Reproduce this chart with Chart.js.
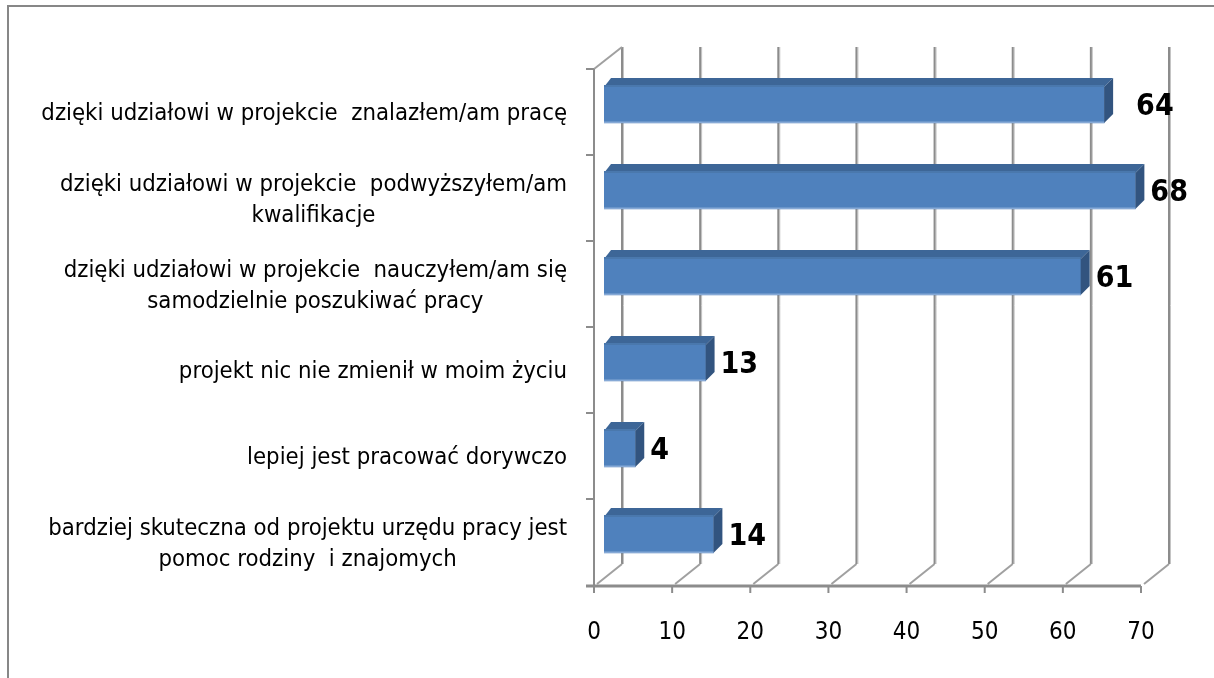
<!DOCTYPE html>
<html><head><meta charset="utf-8">
<script src="https://cdn.jsdelivr.net/npm/chart.js@4"></script>
<style>html,body{margin:0;padding:0;background:#fff;overflow:hidden}#wrap{width:1214px;height:678px;position:relative}</style>
</head><body><div id="wrap"><canvas id="c" width="1214" height="678"></canvas></div>
<script>
const categories = [
  ['dzięki udziałowi w projekcie  znalazłem/am pracę'],
  ['dzięki udziałowi w projekcie  podwyższyłem/am', 'kwalifikacje'],
  ['dzięki udziałowi w projekcie  nauczyłem/am się', 'samodzielnie poszukiwać pracy'],
  ['projekt nic nie zmienił w moim życiu'],
  ['lepiej jest pracować dorywczo'],
  ['bardziej skuteczna od projektu urzędu pracy jest', 'pomoc rodziny  i znajomych']
];
const values = [64, 68, 61, 13, 4, 14];
const xTicks = [0, 10, 20, 30, 40, 50, 60, 70];

const FAM = "'Liberation Sans Narrow', 'Arial Narrow', 'DejaVu Sans Condensed', sans-serif";
const GRID = '#8c8c8c';
// extra horizontal nudge of the value labels (styling only)
const labelNudge = [17, 0, 0, 0, 0, 0];

// fit category label font to reference width
const mctx = document.createElement('canvas').getContext('2d');
mctx.font = '100px ' + FAM;
let widest = 0;
categories.forEach(l => l.forEach(s => { widest = Math.max(widest, mctx.measureText(s).width); }));
const catSize = Math.min(30, 100 * 526 / widest);

function line(ctx, x1, y1, x2, y2) { ctx.beginPath(); ctx.moveTo(x1, y1); ctx.lineTo(x2, y2); ctx.stroke(); }

const frame3d = {
  id: 'frame3d',
  beforeDraw(chart) {
    const ctx = chart.ctx;
    ctx.save();
    ctx.strokeStyle = '#878787'; ctx.lineWidth = 2;
    ctx.strokeRect(8, 6, 1400, 900);
    ctx.restore();
  },
  beforeDatasetsDraw(chart) {
    const ctx = chart.ctx, xs = chart.scales.x, ys = chart.scales.y;
    const DX = 28, DY = -22;
    const front = v => xs.getPixelForValue(v) - 10;
    const yTopF = ys.getPixelForValue(-0.5) + 7;
    const yBotF = ys.getPixelForValue(categories.length - 0.5) + 8;
    ctx.save();
    xTicks.forEach(v => {
      const xb = front(v) + DX;
      ctx.strokeStyle = '#c4c4c4'; ctx.lineWidth = 1;
      line(ctx, xb + 1.5, yTopF + DY, xb + 1.5, yBotF + DY);
      ctx.strokeStyle = GRID; ctx.lineWidth = 2;
      line(ctx, xb, yTopF + DY, xb, yBotF + DY);
      ctx.strokeStyle = '#a0a0a0'; ctx.lineWidth = 2;
      line(ctx, front(v) + 3, yBotF - 2, xb, yBotF + DY);
      ctx.strokeStyle = GRID; ctx.lineWidth = 2;
      line(ctx, front(v), yBotF, front(v), yBotF + 7);
    });
    ctx.strokeStyle = '#a0a0a0'; ctx.lineWidth = 2;
    line(ctx, front(0), yTopF, front(0) + DX, yTopF + DY);
    ctx.strokeStyle = GRID; ctx.lineWidth = 2;
    line(ctx, front(0), yTopF, front(0), yBotF);
    for (let i = 0; i <= categories.length; i++) {
      const yy = ys.getPixelForValue(i - 0.5) + 7 + (i === categories.length ? 1 : 0);
      line(ctx, front(0) - 8, yy, front(0), yy);
    }
    ctx.lineWidth = 3;
    line(ctx, front(0) - 8, yBotF, front(70), yBotF);
    ctx.restore();
  },
  afterDatasetsDraw(chart) {
    const ctx = chart.ctx, ys = chart.scales.y;
    const meta = chart.getDatasetMeta(0);
    const d = 9;
    ctx.save();
    meta.data.forEach((el, i) => {
      const p = el.getProps(['x', 'y', 'base', 'height'], true);
      const top = p.y - p.height / 2, bot = p.y + p.height / 2;
      ctx.fillStyle = '#3d6697';
      ctx.beginPath();
      ctx.moveTo(p.base, top); ctx.lineTo(p.base + d - 2, top - d); ctx.lineTo(p.x + d, top - d); ctx.lineTo(p.x, top); ctx.closePath(); ctx.fill();
      ctx.fillStyle = '#4a78ad';
      ctx.fillRect(p.base, top - 2, p.x - p.base, 2);
      ctx.fillStyle = '#32547f';
      ctx.beginPath();
      ctx.moveTo(p.x, top); ctx.lineTo(p.x + d, top - d); ctx.lineTo(p.x + d, bot - d); ctx.lineTo(p.x, bot); ctx.closePath(); ctx.fill();
      ctx.fillStyle = '#86a9d6';
      ctx.fillRect(p.base, bot - 1.5, p.x - p.base, 1.5);
      ctx.fillStyle = '#000';
      ctx.font = 'bold 30px ' + FAM;
      ctx.textAlign = 'left'; ctx.textBaseline = 'middle';
      ctx.fillText(String(values[i]), p.x + 15 + labelNudge[i], p.y + 2);
    });
    ctx.font = catSize.toFixed(2) + 'px ' + FAM;
    ctx.fillStyle = '#000';
    ctx.textAlign = 'center'; ctx.textBaseline = 'middle';
    const right = 567, lh = 31;
    categories.forEach((lines, i) => {
      const w = Math.max(...lines.map(s => ctx.measureText(s).width));
      const cx = right - w / 2;
      const cy = ys.getPixelForValue(i) + 9;
      lines.forEach((s, k) => ctx.fillText(s, cx, cy - (lines.length - 1) * lh / 2 + k * lh));
    });
    ctx.restore();
  }
};

new Chart(document.getElementById('c'), {
  type: 'bar',
  data: {
    labels: categories,
    datasets: [{ data: values, backgroundColor: '#4f81bd', borderWidth: 0, barThickness: 36 }]
  },
  options: {
    indexAxis: 'y',
    responsive: false,
    devicePixelRatio: 1,
    animation: false,
    layout: { padding: { left: 0, right: 63, top: 62, bottom: 0 } },
    plugins: { legend: { display: false }, tooltip: { enabled: false } },
    scales: {
      x: {
        min: 0, max: 70,
        afterBuildTicks(s) { s.ticks = xTicks.map(v => ({ value: v })); },
        afterFit(s) { s.height = 100; },
        grid: { display: false, drawTicks: false },
        border: { display: false },
        ticks: { labelOffset: -10, padding: 40, color: '#000', font: { family: FAM, size: 24 }, maxRotation: 0, autoSkip: false }
      },
      y: {
        afterFit(s) { s.width = 604; },
        grid: { display: false, drawTicks: false },
        border: { display: false },
        ticks: { display: false }
      }
    }
  },
  plugins: [frame3d]
});
</script></body></html>
